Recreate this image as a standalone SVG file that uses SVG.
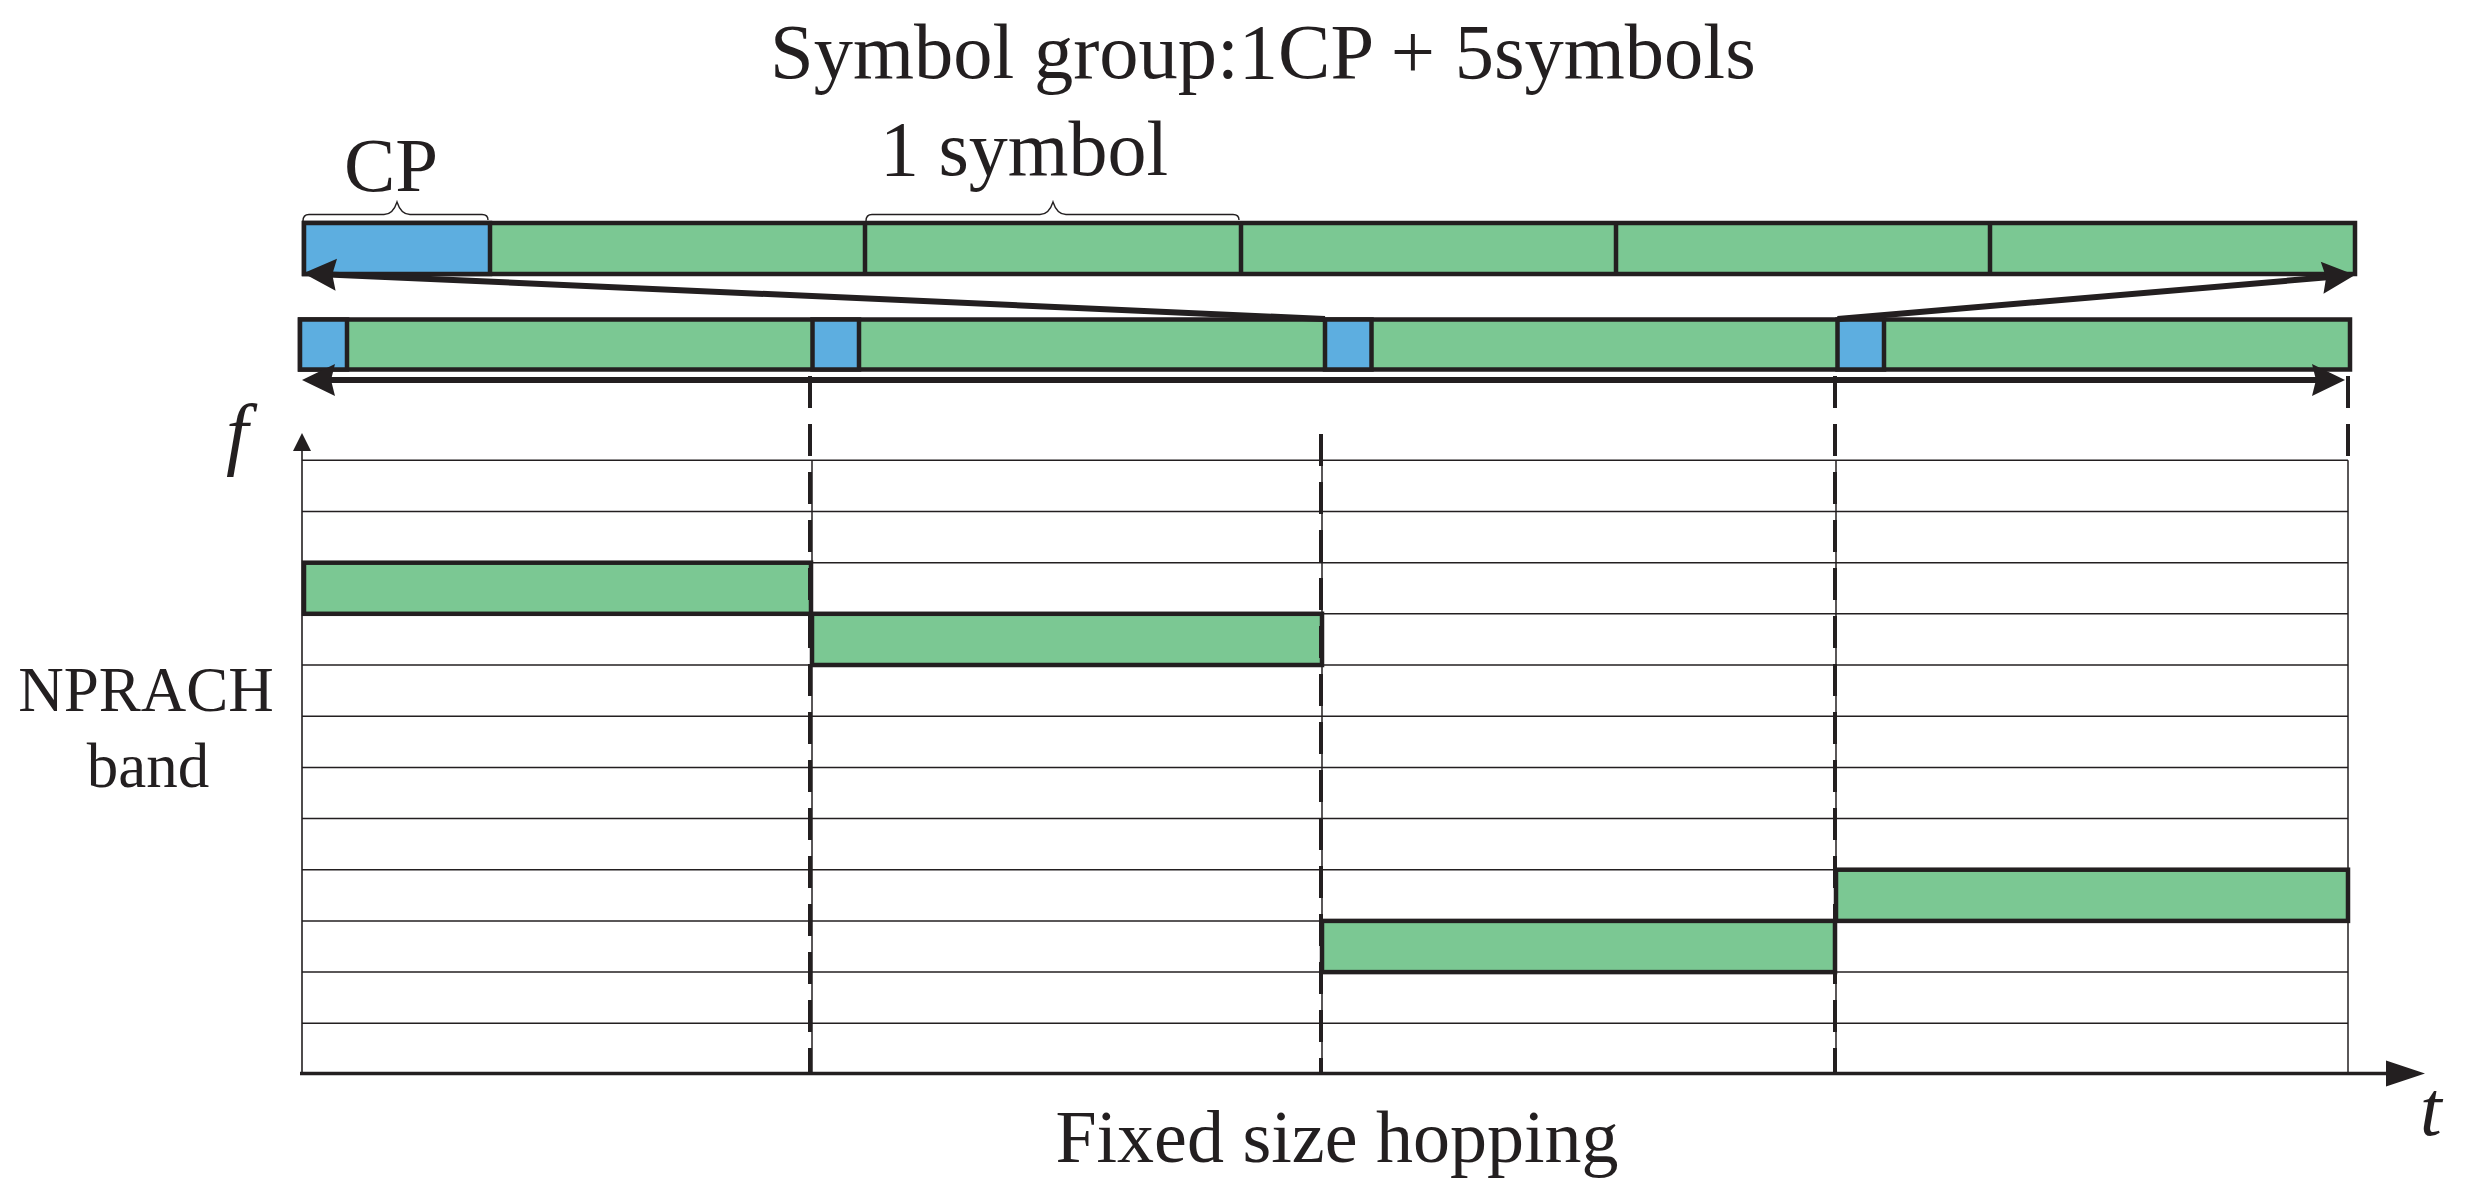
<svg xmlns="http://www.w3.org/2000/svg" width="2466" height="1197" viewBox="0 0 2466 1197">
<defs>
<style>
.txt{font-family:"Liberation Serif","Times New Roman",serif;fill:#231F20}
.it{font-style:italic}
.g{fill:#7BC893;stroke:#231F20;stroke-width:4.5}
.b{fill:#5DAEE0;stroke:#231F20;stroke-width:4.5}
.div{stroke:#231F20;stroke-width:4.5;fill:none}
.grid{stroke:#231F20;stroke-width:1.5;fill:none}
.brace{stroke:#231F20;stroke-width:1.4;fill:none}
.dash{stroke:#231F20;stroke-width:4;fill:none;stroke-dasharray:32 16}
.arr{stroke:#231F20;stroke-width:6;fill:none}
</style>
<marker id="ah" markerUnits="userSpaceOnUse" viewBox="-10 -18 36 36" markerWidth="36" markerHeight="36" refX="0" refY="0" orient="auto-start-reverse">
<path d="M25,0 L-8,-16 L-4,0 L-8,16 Z" fill="#231F20"/>
</marker>
<marker id="ahT" markerUnits="userSpaceOnUse" viewBox="-10 -15 42 30" markerWidth="42" markerHeight="30" refX="0" refY="0" orient="auto">
<path d="M30,0 L-9,-13 L-9,13 Z" fill="#231F20"/>
</marker>
<marker id="ahF" markerUnits="userSpaceOnUse" viewBox="-4 -10 20 20" markerWidth="20" markerHeight="20" refX="0" refY="0" orient="auto">
<path d="M14,0 L-4,-9 L-4,9 Z" fill="#231F20"/>
</marker>
</defs>
<rect width="2466" height="1197" fill="#FFFFFF"/>

<g id="title">
<text class="txt" x="770" y="78" font-size="78.5">Symbol group:1CP + 5symbols</text>
</g>
<g id="label-cp">
<text class="txt" x="344" y="191" font-size="77">CP</text>
<path class="brace" d="M303,221 Q303,214.5 309,214.5 L384,214.5 Q393,214.5 397,202 Q401,214.5 410,214.5 L482,214.5 Q488,214.5 488,220"/>
</g>
<g id="label-symbol">
<text class="txt" x="880" y="175" font-size="78">1 symbol</text>
<path class="brace" d="M866,221 Q866,214.5 872,214.5 L1040,214.5 Q1049,214.5 1053,202 Q1057,214.5 1066,214.5 L1233,214.5 Q1239,214.5 1239,220"/>
</g>

<g id="symbol-group-bar">
<rect class="g" x="304" y="223" width="2051" height="51"/>
<rect class="b" x="304" y="223" width="186" height="51"/>
<line class="div" x1="865" y1="223" x2="865" y2="274"/>
<line class="div" x1="1241" y1="223" x2="1241" y2="274"/>
<line class="div" x1="1616" y1="223" x2="1616" y2="274"/>
<line class="div" x1="1990" y1="223" x2="1990" y2="274"/>
</g>

<g id="repeated-groups-bar">
<rect class="g" x="300" y="319.5" width="2050" height="50"/>
<rect class="b" x="300" y="319.5" width="47" height="50"/>
<rect class="b" x="812.5" y="319.5" width="46.5" height="50"/>
<rect class="b" x="1325" y="319.5" width="46.5" height="50"/>
<rect class="b" x="1837.5" y="319.5" width="46.5" height="50"/>
</g>

<g id="grid">
<line class="grid" x1="302" y1="460.3" x2="2348" y2="460.3"/>
<line class="grid" x1="302" y1="511.5" x2="2348" y2="511.5"/>
<line class="grid" x1="302" y1="562.7" x2="2348" y2="562.7"/>
<line class="grid" x1="302" y1="613.8" x2="2348" y2="613.8"/>
<line class="grid" x1="302" y1="665" x2="2348" y2="665"/>
<line class="grid" x1="302" y1="716.2" x2="2348" y2="716.2"/>
<line class="grid" x1="302" y1="767.4" x2="2348" y2="767.4"/>
<line class="grid" x1="302" y1="818.6" x2="2348" y2="818.6"/>
<line class="grid" x1="302" y1="869.7" x2="2348" y2="869.7"/>
<line class="grid" x1="302" y1="920.9" x2="2348" y2="920.9"/>
<line class="grid" x1="302" y1="972.1" x2="2348" y2="972.1"/>
<line class="grid" x1="302" y1="1023.3" x2="2348" y2="1023.3"/>
<line class="grid" x1="812" y1="460.3" x2="812" y2="1073"/>
<line class="grid" x1="1322" y1="460.3" x2="1322" y2="1073"/>
<line class="grid" x1="1836" y1="460.3" x2="1836" y2="1073"/>
<line class="grid" x1="2348" y1="460.3" x2="2348" y2="1073"/>
</g>

<g id="hop-blocks">
<rect class="g" x="304" y="562.7" width="507" height="51.1"/>
<rect class="g" x="812" y="613.8" width="510" height="51.2"/>
<rect class="g" x="1322" y="920.9" width="513" height="51.2"/>
<rect class="g" x="1836" y="869.7" width="512" height="51.2"/>
</g>

<g id="connectors">
<line class="dash" x1="810" y1="376" x2="810" y2="1073"/>
<line class="dash" x1="1321" y1="434" x2="1321" y2="1073"/>
<line class="dash" x1="1835" y1="376" x2="1835" y2="1073"/>
<line class="dash" x1="2348" y1="376" x2="2348" y2="460"/>
<line class="arr" x1="1325" y1="319" x2="328.3" y2="274.4" marker-end="url(#ah)"/>
<line class="arr" x1="1837.5" y1="319" x2="2330.1" y2="277.1" marker-end="url(#ah)"/>
<line class="arr" x1="327" y1="380" x2="2320" y2="380" marker-start="url(#ah)" marker-end="url(#ah)"/>
<line stroke="#231F20" stroke-width="1.6" x1="302" y1="1073" x2="302" y2="447" marker-end="url(#ahF)"/>
<line stroke="#231F20" stroke-width="3.5" x1="300" y1="1073.5" x2="2395" y2="1073.5" marker-end="url(#ahT)"/>
</g>

<g id="axis-labels">
<text class="txt it" x="226" y="460" font-size="80">f</text>
<text class="txt it" x="2420" y="1135" font-size="78">t</text>
<text class="txt" x="146" y="711" font-size="63" text-anchor="middle">NPRACH</text>
<text class="txt" x="148" y="787" font-size="63" text-anchor="middle">band</text>
<text class="txt" x="1337" y="1162" font-size="74" text-anchor="middle">Fixed size hopping</text>
</g>
</svg>
